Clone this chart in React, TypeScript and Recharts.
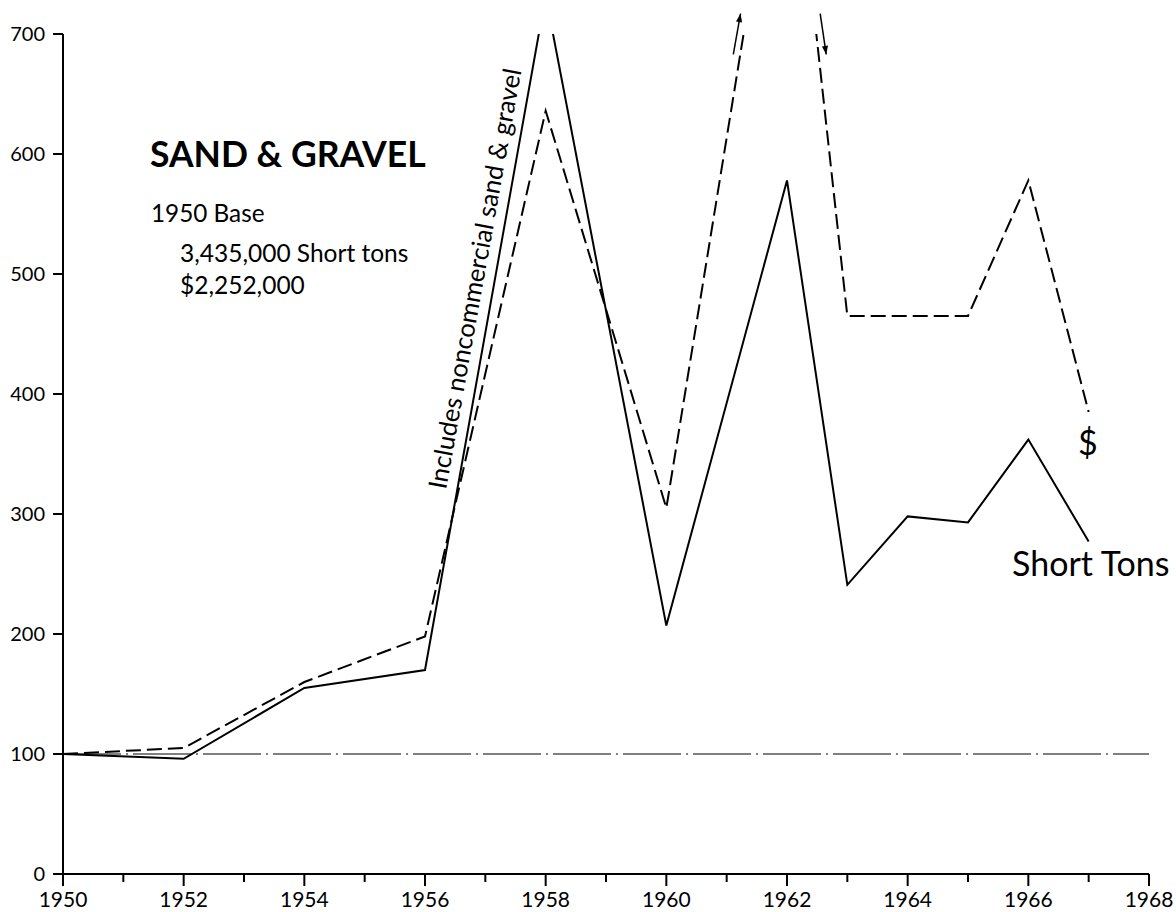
import { Line, LineChart, ReferenceLine, XAxis, YAxis } from 'recharts';

const years = [1950, 1952, 1954, 1956, 1958, 1960, 1962, 1963, 1964, 1965, 1966, 1967];
const shortTons = [100, 96, 155, 170, 732, 207, 578, 241, 298, 293, 362, 277];
const dollars = [100, 105, 160, 198, 636, 305, 922, 465, 465, 465, 578, 385];

const xTicks = [
  1950, 1951, 1952, 1953, 1954, 1955, 1956, 1957, 1958, 1959, 1960, 1961, 1962, 1963, 1964, 1965,
  1966, 1967, 1968,
];
const yTicks = [0, 100, 200, 300, 400, 500, 600, 700];

// small arrows beside the lines that leave the top of the chart
const arrows = [
  { from: { x: 1961.11, y: 683 }, to: { x: 1961.23, y: 717 } },
  { from: { x: 1962.55, y: 717 }, to: { x: 1962.65, y: 683 } },
];

const data = years.map((year, i) => ({ year, tons: shortTons[i], dollars: dollars[i] }));

const FONT = 'Lato, "Open Sans", sans-serif';

const XTick = (props: any) => {
  const { x, y, payload } = props;
  const major = payload.value % 2 === 0;
  return (
    <g>
      <line x1={x} x2={x} y1={y} y2={y + (major ? 12 : 8)} stroke="#000" strokeWidth={2} />
      {major && (
        <text x={x} y={y + 33} textAnchor="middle" fontSize={21} fontFamily={FONT} fill="#000">
          {payload.value}
        </text>
      )}
    </g>
  );
};

const Arrow = (props: any) => {
  const { x1, y1, x2, y2 } = props;
  const ang = Math.atan2(y2 - y1, x2 - x1);
  const len = 9;
  const a1 = ang + Math.PI - 0.35;
  const a2 = ang + Math.PI + 0.35;
  return (
    <g>
      <line x1={x1} y1={y1} x2={x2} y2={y2} stroke="#000" strokeWidth={1.5} />
      <polygon
        points={`${x2},${y2} ${x2 + len * Math.cos(a1)},${y2 + len * Math.sin(a1)} ${
          x2 + len * Math.cos(a2)
        },${y2 + len * Math.sin(a2)}`}
        fill="#000"
      />
    </g>
  );
};

const App = () => {
  return (
    <div
      style={{
        position: 'absolute',
        left: 0,
        top: 0,
        width: 1176,
        height: 912,
        background: '#fff',
      }}
    >
      <LineChart
        width={1176}
        height={912}
        data={data}
        margin={{ top: 34, right: 27, bottom: 0, left: 8 }}
      >
        <XAxis
          dataKey="year"
          type="number"
          domain={[1950, 1968]}
          ticks={xTicks}
          interval={0}
          height={38}
          tickSize={0}
          tickMargin={0}
          tickLine={false}
          tick={<XTick />}
          axisLine={{ stroke: '#000', strokeWidth: 2 }}
        />
        <YAxis
          type="number"
          domain={[0, 700]}
          ticks={yTicks}
          allowDataOverflow
          width={55}
          tickSize={10}
          tickMargin={8}
          tickLine={{ stroke: '#000', strokeWidth: 2 }}
          axisLine={{ stroke: '#000', strokeWidth: 2 }}
          tick={{ fill: '#000', fontSize: 20, fontFamily: FONT }}
        />
        <ReferenceLine y={100} stroke="#000" strokeWidth={1} strokeDasharray="58 5 2 5" />
        <Line
          type="linear"
          dataKey="tons"
          stroke="#000"
          strokeWidth={2}
          dot={false}
          isAnimationActive={false}
        />
        <Line
          type="linear"
          dataKey="dollars"
          stroke="#000"
          strokeWidth={2}
          strokeDasharray="15 6"
          dot={false}
          isAnimationActive={false}
        />
        {arrows.map((a, i) => (
          <ReferenceLine
            key={i}
            segment={[a.from, a.to]}
            ifOverflow="visible"
            shape={(p: any) => <Arrow {...p} />}
          />
        ))}
      </LineChart>
      <svg
        width={1176}
        height={912}
        style={{ position: 'absolute', left: 0, top: 0, pointerEvents: 'none' }}
        fontFamily={FONT}
      >
        <text x={150} y={167} fontSize={35.5} fontWeight={700} fill="#000">
          SAND &amp; GRAVEL
        </text>
        <text x={151} y={222} fontSize={24.3} fill="#000">
          1950 Base
        </text>
        <text x={180} y={262} fontSize={24.5} fill="#000">
          3,435,000 Short tons
        </text>
        <text x={180} y={294} fontSize={24.5} fill="#000">
          $2,252,000
        </text>
        <text
          x={0}
          y={0}
          fontSize={25.5}
          fill="#000"
          transform="translate(446,490) rotate(-79.8)"
        >
          Includes noncommercial sand &amp; gravel
        </text>
        <text x={1078} y={455} fontSize={34} fill="#000">
          $
        </text>
        <text x={1012} y={576} fontSize={34} fill="#000">
          Short Tons
        </text>
      </svg>
    </div>
  );
};

export default App;
